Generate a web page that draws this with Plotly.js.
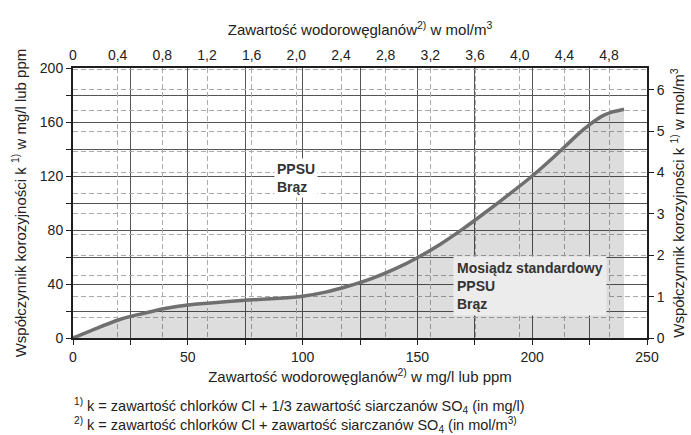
<!DOCTYPE html>
<html>
<head>
<meta charset="utf-8">
<script src="https://cdn.plot.ly/plotly-3.0.1.min.js"></script>
<style>html,body{margin:0;padding:0;background:#fff;}#chart{width:691px;height:435px;}</style>
</head>
<body>
<div id="chart"></div>
<script>
// Bicarbonate content (mg/l) and corrosion coefficient k (mg/l)
const bicarbonateMgL = [0, 10, 20, 25, 30, 40, 50, 60, 75, 90, 100, 110, 120, 130, 140, 150, 160, 170, 180, 190, 200, 210, 215, 220, 225, 230, 235, 240];
const corrosionK     = [0, 7, 13.5, 16, 18, 21.8, 24.5, 26, 28, 29.5, 31, 34, 38.5, 44, 51, 59.5, 69.5, 81, 93.5, 106.5, 120, 135, 143, 151, 158, 164, 167.5, 169.5];

const bottomTicks = [0, 50, 100, 150, 200, 250];
const leftTicks = [0, 40, 80, 120, 160, 200];
const topTicks = [0, 0.4, 0.8, 1.2, 1.6, 2.0, 2.4, 2.8, 3.2, 3.6, 4.0, 4.4, 4.8];
const topLabels = ['0', '0,4', '0,8', '1,2', '1,6', '2,0', '2,4', '2,8', '3,2', '3,6', '4,0', '4,4', '4,8'];
const rightTicks = [0, 1, 2, 3, 4, 5, 6];

const zoneUpper = '<b>PPSU<br>Brąz</b>';
const zoneLower = '<b>Mosiądz standardowy<br>PPSU<br>Brąz</b>';
const footnotes = [
  '<sup>1)</sup> k = zawartość chlorków Cl + 1/3 zawartość siarczanów SO<sub>4</sub> (in mg/l)',
  '<sup>2)</sup> k = zawartość chlorków Cl + zawartość siarczanów SO<sub>4</sub> (in mol/m<sup>3)</sup>'
];

const FONT = 'Liberation Sans, Arial, Helvetica, sans-serif';
const solidGrid = '#555555';
const dashGrid = '#ababab';
const axisLine = '#1e1e1e';

const traces = [
  {
    x: bicarbonateMgL, y: corrosionK, xaxis: 'x', yaxis: 'y',
    type: 'scatter', mode: 'lines',
    line: {color: '#6f6f6f', width: 3.5, shape: 'spline', smoothing: 0.6},
    fill: 'tozeroy', fillcolor: 'rgba(0,0,0,0.135)',
    hoverinfo: 'skip', showlegend: false
  },
  {
    x: [], y: [], xaxis: 'x2', yaxis: 'y2', type: 'scatter', mode: 'lines',
    hoverinfo: 'skip', showlegend: false
  }
];

const layout = {
  width: 691, height: 435,
  margin: {l: 72.7, r: 44.3, t: 67.7, b: 96.5},
  paper_bgcolor: '#ffffff', plot_bgcolor: '#ffffff',
  font: {family: FONT, size: 14, color: '#222'},
  showlegend: false,
  xaxis: {
    range: [0, 250], tickvals: bottomTicks, ticks: 'outside', ticklen: 5, tickcolor: axisLine,
    showgrid: true, gridcolor: solidGrid, gridwidth: 1,
    minor: {dtick: 25, tick0: 0, showgrid: true, gridcolor: solidGrid, gridwidth: 1, ticks: 'outside', ticklen: 5, tickcolor: axisLine},
    showline: true, linecolor: axisLine, linewidth: 2, zeroline: false,
    tickfont: {size: 14, color: '#222'},
    title: {text: 'Zawartość wodorowęglanów<sup>2)</sup> w mg/l lub ppm', font: {size: 15, color: '#222'}, standoff: 8}
  },
  yaxis: {
    range: [0, 200], tickvals: leftTicks, ticks: 'outside', ticklen: 5, tickcolor: axisLine,
    showgrid: true, gridcolor: solidGrid, gridwidth: 1,
    minor: {dtick: 20, tick0: 0, showgrid: true, gridcolor: solidGrid, gridwidth: 1, ticks: 'outside', ticklen: 5, tickcolor: axisLine},
    showline: true, linecolor: axisLine, linewidth: 2, zeroline: false,
    tickfont: {size: 14, color: '#222'},
    title: {text: 'Współczynnik korozyjności k <sup>1)</sup> w mg/l lub ppm', font: {size: 15, color: '#222'}, standoff: 10}
  },
  xaxis2: {
    overlaying: 'x', side: 'top', anchor: 'y', range: [0, 5.14],
    tickvals: topTicks, ticktext: topLabels, ticks: '',
    showgrid: true, gridcolor: dashGrid, gridwidth: 1, griddash: '5px,3px',
    showline: true, linecolor: axisLine, linewidth: 2, zeroline: false,
    tickfont: {size: 14, color: '#222'},
    title: {text: 'Zawartość wodorowęglanów<sup>2)</sup> w mol/m<sup>3</sup>', font: {size: 15, color: '#222'}, standoff: 8}
  },
  yaxis2: {
    overlaying: 'y', side: 'right', anchor: 'x', range: [0, 6.525],
    tickvals: rightTicks, ticks: 'outside', ticklen: 5, tickcolor: axisLine,
    showgrid: true, gridcolor: dashGrid, gridwidth: 1, griddash: '5px,3px',
    minor: {dtick: 0.5, tick0: 0, showgrid: true, gridcolor: dashGrid, gridwidth: 1, griddash: '5px,3px'},
    showline: true, linecolor: axisLine, linewidth: 2, zeroline: false,
    tickfont: {size: 14, color: '#222'},
    title: {text: 'Współczynnik korozyjności k <sup>1)</sup> w mol/m<sup>3</sup>', font: {size: 15, color: '#222'}, standoff: 10}
  },
  annotations: [
    {text: zoneUpper, xref: 'x', yref: 'y', x: 87.5, y: 118.5, xanchor: 'left', yanchor: 'middle', align: 'left',
     showarrow: false, bgcolor: '#ffffff', borderpad: 2, font: {size: 14, color: '#333', family: FONT}},
    {text: zoneLower, xref: 'x', yref: 'y', x: 165.5, y: 38.5, xanchor: 'left', yanchor: 'middle', align: 'left',
     showarrow: false, bgcolor: '#ececec', borderpad: 3, font: {size: 14, color: '#333', family: FONT}},
    {text: footnotes.join('<br>'), xref: 'paper', yref: 'paper', x: -0.002, y: 0, yshift: -77, xanchor: 'left', yanchor: 'middle', align: 'left',
     showarrow: false, font: {size: 14.5, color: '#222', family: FONT}}
  ]
};

Plotly.newPlot('chart', traces, layout, {staticPlot: true, displayModeBar: false});
</script>
</body>
</html>
